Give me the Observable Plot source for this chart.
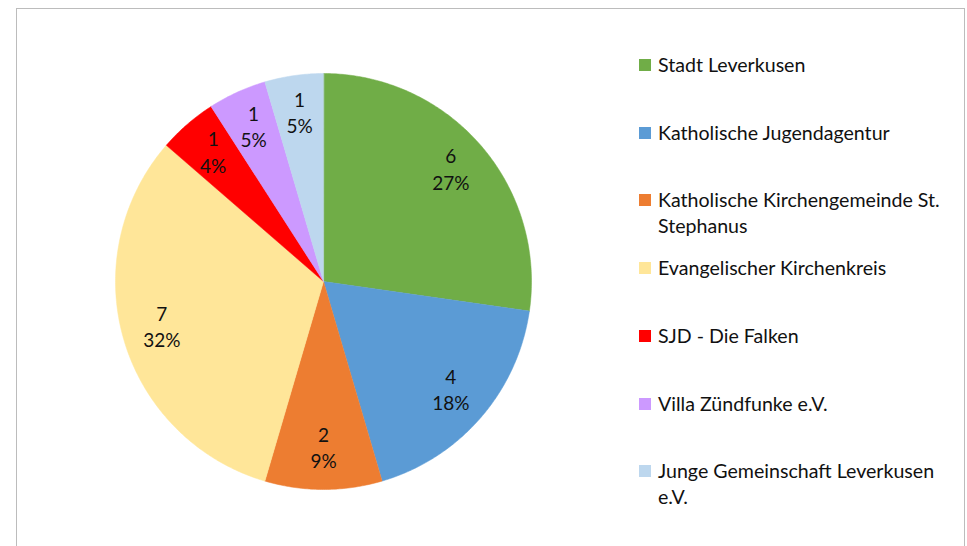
<!DOCTYPE html>
<html>
<head>
<meta charset="utf-8">
<script src="https://cdn.jsdelivr.net/npm/d3@7"></script>
<script src="https://cdn.jsdelivr.net/npm/@observablehq/plot@0.6"></script>
<style>
  html, body { margin: 0; padding: 0; background: #fff; }
  #wrap { position: relative; width: 967px; height: 546px; overflow: hidden; font-family: Lato, "Open Sans", sans-serif; }
  #frame { position: absolute; left: 16px; top: 8px; width: 949px; height: 560px; border: 1.5px solid #bcbcbc; box-sizing: border-box; }
  #chart { position: absolute; left: 0; top: 0; }
  #legend { position: absolute; left: 639px; top: 52px; width: 320px; }
  .item { position: absolute; left: 0; display: flex; align-items: flex-start; font-size: 19.6px; line-height: 26px; color: #111; }
  .sw { width: 12px; height: 12px; margin-top: 7px; margin-right: 7px; flex: none; }
  .lbl { max-width: 298px; }
</style>
</head>
<body>
<div id="wrap">
  <div id="frame"></div>
  <div id="chart"></div>
  <div id="legend"></div>
</div>
<script>
const categories = [
  "Stadt Leverkusen",
  "Katholische Jugendagentur",
  "Katholische Kirchengemeinde St. Stephanus",
  "Evangelischer Kirchenkreis",
  "SJD - Die Falken",
  "Villa Zündfunke e.V.",
  "Junge Gemeinschaft Leverkusen e.V."
];
const counts = [6, 4, 2, 7, 1, 1, 1];
const percentLabels = ["27%", "18%", "9%", "32%", "4%", "5%", "5%"];
const colors = ["#70ad47", "#5b9bd5", "#ed7d31", "#ffe699", "#ff0000", "#cc99ff", "#bdd7ee"];

const rows = categories.map((name, i) => ({name, count: counts[i], pct: percentLabels[i]}));
const arcs = d3.pie().sort(null).value(d => d.count)(rows);

// polygon vertices of each slice, in unit-circle coordinates (y up)
const slicePoints = [];
for (const a of arcs) {
  slicePoints.push({name: a.data.name, x: 0, y: 0});
  const n = Math.max(2, Math.ceil((a.endAngle - a.startAngle) / 0.01));
  for (let k = 0; k <= n; k++) {
    const t = a.startAngle + (a.endAngle - a.startAngle) * k / n;
    slicePoints.push({name: a.data.name, x: Math.sin(t), y: Math.cos(t)});
  }
}
const labelRadius = 0.81;
const labelRows = arcs.map(a => {
  const m = (a.startAngle + a.endAngle) / 2;
  return {x: labelRadius * Math.sin(m), y: labelRadius * Math.cos(m), text: `${a.data.count}\n${a.data.pct}`};
});

const chart = Plot.plot({
  width: 967,
  height: 546,
  margin: 0,
  x: {domain: [-1, 1], range: [115, 531], axis: null},
  y: {domain: [-1, 1], range: [489, 73], axis: null},
  color: {domain: categories, range: colors},
  style: {background: "transparent", fontFamily: "Lato, 'Open Sans', sans-serif"},
  marks: [
    Plot.line(slicePoints, {x: "x", y: "y", z: "name", fill: "name", stroke: "name", strokeWidth: 0.5, curve: "linear-closed"}),
    Plot.text(labelRows, {x: "x", y: "y", text: "text", dy: -3, fontSize: 19, lineHeight: 1.37, fill: "#111"})
  ]
});
document.getElementById("chart").appendChild(chart);

const legend = document.getElementById("legend");
categories.forEach((name, i) => {
  const item = document.createElement("div");
  item.className = "item";
  item.style.top = (i * 67.7) + "px";
  const sw = document.createElement("div");
  sw.className = "sw";
  sw.style.background = colors[i];
  const lbl = document.createElement("div");
  lbl.className = "lbl";
  lbl.textContent = name;
  item.appendChild(sw);
  item.appendChild(lbl);
  legend.appendChild(item);
});
</script>
</body>
</html>
